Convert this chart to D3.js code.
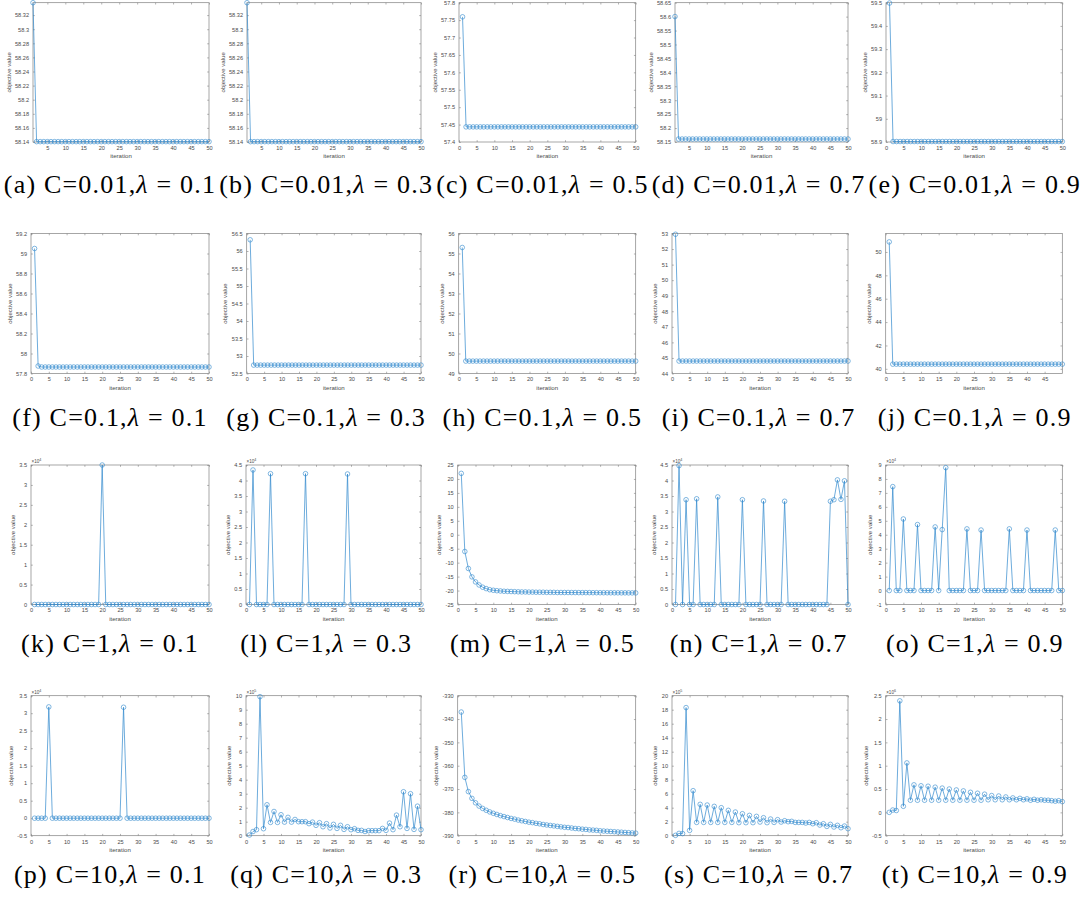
<!DOCTYPE html>
<html>
<head>
<meta charset="utf-8">
<script src="https://cdn.jsdelivr.net/npm/d3@7"></script>
<style>
  body { margin: 0; background: #fff; }
  svg { display: block; }
</style>
</head>
<body>
<svg id="fig" width="1085" height="905"></svg>
<script>
// ---------- parameters of each run ----------
const cValues = ["0.01", "0.1", "1", "10"];
const lambdaValues = ["0.1", "0.3", "0.5", "0.7", "0.9"];
const panelLetters = ["a","b","c","d","e","f","g","h","i","j","k","l","m","n","o","p","q","r","s","t"];

// ---------- objective value at iterations 1..50 ----------
const objA = [58.3376,
  58.1405,58.1405,58.1405,58.1405,58.1405,58.1405,58.1405,58.1405,58.1405,58.1405,
  58.1405,58.1405,58.1405,58.1405,58.1405,58.1405,58.1405,58.1405,58.1405,58.1405,
  58.1405,58.1405,58.1405,58.1405,58.1405,58.1405,58.1405,58.1405,58.1405,58.1405,
  58.1405,58.1405,58.1405,58.1405,58.1405,58.1405,58.1405,58.1405,58.1405,58.1405,
  58.1405,58.1405,58.1405,58.1405,58.1405,58.1405,58.1405,58.1405,58.1405];
const objB = [58.3376,
  58.1405,58.1405,58.1405,58.1405,58.1405,58.1405,58.1405,58.1405,58.1405,58.1405,
  58.1405,58.1405,58.1405,58.1405,58.1405,58.1405,58.1405,58.1405,58.1405,58.1405,
  58.1405,58.1405,58.1405,58.1405,58.1405,58.1405,58.1405,58.1405,58.1405,58.1405,
  58.1405,58.1405,58.1405,58.1405,58.1405,58.1405,58.1405,58.1405,58.1405,58.1405,
  58.1405,58.1405,58.1405,58.1405,58.1405,58.1405,58.1405,58.1405,58.1405];
const objC = [57.7594,
  57.4434,57.4434,57.4434,57.4434,57.4434,57.4434,57.4434,57.4434,57.4434,57.4434,
  57.4434,57.4434,57.4434,57.4434,57.4434,57.4434,57.4434,57.4434,57.4434,57.4434,
  57.4434,57.4434,57.4434,57.4434,57.4434,57.4434,57.4434,57.4434,57.4434,57.4434,
  57.4434,57.4434,57.4434,57.4434,57.4434,57.4434,57.4434,57.4434,57.4434,57.4434,
  57.4434,57.4434,57.4434,57.4434,57.4434,57.4434,57.4434,57.4434,57.4434];
const objD = [58.6003,
  58.1607,58.1607,58.1607,58.1607,58.1607,58.1607,58.1607,58.1607,58.1607,58.1607,
  58.1607,58.1607,58.1607,58.1607,58.1607,58.1607,58.1607,58.1607,58.1607,58.1607,
  58.1607,58.1607,58.1607,58.1607,58.1607,58.1607,58.1607,58.1607,58.1607,58.1607,
  58.1607,58.1607,58.1607,58.1607,58.1607,58.1607,58.1607,58.1607,58.1607,58.1607,
  58.1607,58.1607,58.1607,58.1607,58.1607,58.1607,58.1607,58.1607,58.1607];
const objE = [59.4985,
  58.9020,58.9020,58.9020,58.9020,58.9020,58.9020,58.9020,58.9020,58.9020,58.9020,
  58.9020,58.9020,58.9020,58.9020,58.9020,58.9020,58.9020,58.9020,58.9020,58.9020,
  58.9020,58.9020,58.9020,58.9020,58.9020,58.9020,58.9020,58.9020,58.9020,58.9020,
  58.9020,58.9020,58.9020,58.9020,58.9020,58.9020,58.9020,58.9020,58.9020,58.9020,
  58.9020,58.9020,58.9020,58.9020,58.9020,58.9020,58.9020,58.9020,58.9020];
const objF = [59.05, 57.875,
  57.865,57.865,57.865,57.865,57.865,57.865,57.865,57.865,57.865,57.865,
  57.865,57.865,57.865,57.865,57.865,57.865,57.865,57.865,57.865,57.865,
  57.865,57.865,57.865,57.865,57.865,57.865,57.865,57.865,57.865,57.865,
  57.865,57.865,57.865,57.865,57.865,57.865,57.865,57.865,57.865,57.865,
  57.865,57.865,57.865,57.865,57.865,57.865,57.865,57.865];
const objG = [56.32,
  52.74,52.74,52.74,52.74,52.74,52.74,52.74,52.74,52.74,52.74,
  52.74,52.74,52.74,52.74,52.74,52.74,52.74,52.74,52.74,52.74,
  52.74,52.74,52.74,52.74,52.74,52.74,52.74,52.74,52.74,52.74,
  52.74,52.74,52.74,52.74,52.74,52.74,52.74,52.74,52.74,52.74,
  52.74,52.74,52.74,52.74,52.74,52.74,52.74,52.74,52.74];
const objH = [55.30,
  49.62,49.62,49.62,49.62,49.62,49.62,49.62,49.62,49.62,49.62,
  49.62,49.62,49.62,49.62,49.62,49.62,49.62,49.62,49.62,49.62,
  49.62,49.62,49.62,49.62,49.62,49.62,49.62,49.62,49.62,49.62,
  49.62,49.62,49.62,49.62,49.62,49.62,49.62,49.62,49.62,49.62,
  49.62,49.62,49.62,49.62,49.62,49.62,49.62,49.62,49.62];
const objI = [52.95,
  44.80,44.80,44.80,44.80,44.80,44.80,44.80,44.80,44.80,44.80,
  44.80,44.80,44.80,44.80,44.80,44.80,44.80,44.80,44.80,44.80,
  44.80,44.80,44.80,44.80,44.80,44.80,44.80,44.80,44.80,44.80,
  44.80,44.80,44.80,44.80,44.80,44.80,44.80,44.80,44.80,44.80,
  44.80,44.80,44.80,44.80,44.80,44.80,44.80,44.80,44.80];
const objJ = [50.86,
  40.40,40.40,40.40,40.40,40.40,40.40,40.40,40.40,40.40,40.40,
  40.40,40.40,40.40,40.40,40.40,40.40,40.40,40.40,40.40,40.40,
  40.40,40.40,40.40,40.40,40.40,40.40,40.40,40.40,40.40,40.40,
  40.40,40.40,40.40,40.40,40.40,40.40,40.40,40.40,40.40,40.40,
  40.40,40.40,40.40,40.40,40.40,40.40,40.40,40.40,40.40];
const objK = [
  0,0,0,0,0,0,0,0,0,0,
  0,0,0,0,0,0,0,0,0,3.5e4,
  0,0,0,0,0,0,0,0,0,0,
  0,0,0,0,0,0,0,0,0,0,
  0,0,0,0,0,0,0,0,0,0];
const objL = [
  0,4.34e4,0,0,0,0,4.22e4,0,0,0,
  0,0,0,0,0,0,4.22e4,0,0,0,
  0,0,0,0,0,0,0,0,4.21e4,0,
  0,0,0,0,0,0,0,0,0,0,
  0,0,0,0,0,0,0,0,0,0];
const objM = [
  22.0,-6.0,-12.1,-15.1,-16.9,-18.0,-18.8,-19.3,-19.7,-19.9,
  -20.05,-20.15,-20.25,-20.3,-20.35,-20.4,-20.45,-20.5,-20.5,-20.55,
  -20.55,-20.6,-20.6,-20.6,-20.65,-20.65,-20.65,-20.7,-20.7,-20.7,
  -20.7,-20.72,-20.72,-20.74,-20.74,-20.75,-20.75,-20.76,-20.77,-20.78,
  -20.78,-20.79,-20.8,-20.8,-20.81,-20.82,-20.82,-20.83,-20.84,-20.85];
const objN = [
  0,4.48e4,0,3.38e4,0,0,3.41e4,0,0,0,
  0,0,3.47e4,0,0,0,0,0,0,3.38e4,
  0,0,0,0,0,3.34e4,0,0,0,0,
  0,3.33e4,0,0,0,0,0,0,0,0,
  0,0,0,0,3.33e4,3.38e4,4.02e4,3.39e4,3.99e4,0];
const objO = [
  0,7.45e4,0,0,5.13e4,0,0,0,4.73e4,0,
  0,0,0,4.56e4,0,4.37e4,8.81e4,0,0,0,
  0,0,4.42e4,0,0,0,4.34e4,0,0,0,
  0,0,0,0,4.42e4,0,0,0,0,4.34e4,
  0,0,0,0,0,0,0,4.34e4,0,0];
const objP = [
  0,0,0,0,3.18e4,0,0,0,0,0,
  0,0,0,0,0,0,0,0,0,0,
  0,0,0,0,0,3.17e4,0,0,0,0,
  0,0,0,0,0,0,0,0,0,0,
  0,0,0,0,0,0,0,0,0,0];
const objQ = [
  0.05e5,0.30e5,0.43e5,9.93e5,0.50e5,2.21e5,0.95e5,1.73e5,0.95e5,1.50e5,
  0.97e5,1.31e5,0.97e5,1.16e5,1.00e5,1.00e5,1.00e5,0.86e5,0.97e5,0.74e5,
  0.93e5,0.64e5,0.86e5,0.55e5,0.81e5,0.52e5,0.74e5,0.45e5,0.64e5,0.43e5,
  0.50e5,0.38e5,0.38e5,0.30e5,0.36e5,0.36e5,0.36e5,0.36e5,0.52e5,0.38e5,
  0.90e5,0.43e5,1.47e5,0.64e5,3.14e5,0.52e5,3.00e5,0.45e5,2.11e5,0.43e5];
const objR = [
  -337.0,-365.0,-371.1,-374.0,-375.9,-377.3,-378.3,-379.1,-379.8,-380.4,
  -380.9,-381.4,-381.8,-382.2,-382.6,-382.9,-383.3,-383.6,-383.9,-384.2,
  -384.4,-384.7,-384.9,-385.2,-385.4,-385.6,-385.8,-386.0,-386.2,-386.4,
  -386.5,-386.7,-386.9,-387.0,-387.2,-387.3,-387.5,-387.6,-387.7,-387.9,
  -388.0,-388.1,-388.2,-388.3,-388.4,-388.5,-388.6,-388.7,-388.8,-388.9];
const objS = [
  0.05e5,0.33e5,0.30e5,18.3e5,0.76e5,6.43e5,1.90e5,4.48e5,1.90e5,4.38e5,
  1.90e5,4.19e5,1.90e5,4.00e5,1.90e5,3.62e5,1.90e5,3.38e5,1.86e5,3.14e5,
  1.86e5,2.90e5,1.86e5,2.76e5,1.95e5,2.57e5,1.86e5,2.38e5,1.90e5,2.29e5,
  1.95e5,2.14e5,2.00e5,2.05e5,1.90e5,1.90e5,1.90e5,1.81e5,1.90e5,1.71e5,
  1.86e5,1.52e5,1.71e5,1.33e5,1.62e5,1.24e5,1.48e5,1.14e5,1.38e5,1.00e5];
const objT = [
  0.00e6,0.05e6,0.04e6,2.39e6,0.13e6,1.06e6,0.26e6,0.59e6,0.26e6,0.57e6,
  0.26e6,0.56e6,0.26e6,0.54e6,0.26e6,0.52e6,0.26e6,0.50e6,0.26e6,0.48e6,
  0.26e6,0.46e6,0.26e6,0.43e6,0.26e6,0.41e6,0.26e6,0.39e6,0.27e6,0.36e6,
  0.27e6,0.35e6,0.27e6,0.33e6,0.27e6,0.31e6,0.27e6,0.30e6,0.27e6,0.29e6,
  0.26e6,0.28e6,0.26e6,0.27e6,0.26e6,0.26e6,0.25e6,0.24e6,0.25e6,0.23e6];

// ---------- axis limits and tick labels ----------
const xLimFrom1 = [1, 50];
const xLimFrom0 = [0, 50];
const xTicksFrom5 = [5, 10, 15, 20, 25, 30, 35, 40, 45, 50];
const xTicksFrom0 = [0, 5, 10, 15, 20, 25, 30, 35, 40, 45, 50];
const xTicksTo45 = [0, 5, 10, 15, 20, 25, 30, 35, 40, 45];

const yTicksA = [58.14, 58.16, 58.18, 58.2, 58.22, 58.24, 58.26, 58.28, 58.3, 58.32];
const yTicksC = [57.4, 57.45, 57.5, 57.55, 57.6, 57.65, 57.7, 57.75, 57.8];
const yTicksD = [58.15, 58.2, 58.25, 58.3, 58.35, 58.4, 58.45, 58.5, 58.55, 58.6, 58.65];
const yTicksE = [58.9, 59, 59.1, 59.2, 59.3, 59.4, 59.5];
const yTicksF = [57.8, 58, 58.2, 58.4, 58.6, 58.8, 59, 59.2];
const yTicksG = [52.5, 53, 53.5, 54, 54.5, 55, 55.5, 56, 56.5];
const yTicksH = [49, 50, 51, 52, 53, 54, 55, 56];
const yTicksI = [44, 45, 46, 47, 48, 49, 50, 51, 52, 53];
const yTicksJ = [40, 42, 44, 46, 48, 50];
const yTicksK = [0, 0.5, 1, 1.5, 2, 2.5, 3, 3.5];
const yTicksL = [0, 0.5, 1, 1.5, 2, 2.5, 3, 3.5, 4, 4.5];
const yTicksM = [-25, -20, -15, -10, -5, 0, 5, 10, 15, 20, 25];
const yTicksO = [-1, 0, 1, 2, 3, 4, 5, 6, 7, 8, 9];
const yTicksP = [-0.5, 0, 0.5, 1, 1.5, 2, 2.5, 3, 3.5];
const yTicksQ = [0, 1, 2, 3, 4, 5, 6, 7, 8, 9, 10];
const yTicksR = [-390, -380, -370, -360, -350, -340, -330];
const yTicksS = [0, 2, 4, 6, 8, 10, 12, 14, 16, 18, 20];
const yTicksT = [-0.5, 0, 0.5, 1, 1.5, 2, 2.5];

// panel specs: series, x limits, x ticks, y limits (tick units), y ticks, power of ten
const panels = [
  { data: objA, xLim: xLimFrom1, xTicks: xTicksFrom5, yLim: [58.14, 58.3376], yTicks: yTicksA, exp: 0 },
  { data: objB, xLim: xLimFrom1, xTicks: xTicksFrom5, yLim: [58.14, 58.3376], yTicks: yTicksA, exp: 0 },
  { data: objC, xLim: xLimFrom0, xTicks: xTicksFrom0, yLim: [57.4, 57.8], yTicks: yTicksC, exp: 0 },
  { data: objD, xLim: xLimFrom1, xTicks: xTicksFrom5, yLim: [58.15, 58.65], yTicks: yTicksD, exp: 0 },
  { data: objE, xLim: xLimFrom0, xTicks: xTicksFrom0, yLim: [58.9, 59.5], yTicks: yTicksE, exp: 0 },
  { data: objF, xLim: xLimFrom0, xTicks: xTicksFrom0, yLim: [57.8, 59.2], yTicks: yTicksF, exp: 0 },
  { data: objG, xLim: xLimFrom0, xTicks: xTicksFrom0, yLim: [52.5, 56.5], yTicks: yTicksG, exp: 0 },
  { data: objH, xLim: xLimFrom0, xTicks: xTicksFrom0, yLim: [49, 56], yTicks: yTicksH, exp: 0 },
  { data: objI, xLim: xLimFrom0, xTicks: xTicksFrom0, yLim: [44, 53], yTicks: yTicksI, exp: 0 },
  { data: objJ, xLim: xLimFrom0, xTicks: xTicksTo45, yLim: [39.6, 51.58], yTicks: yTicksJ, exp: 0 },
  { data: objK, xLim: xLimFrom0, xTicks: xTicksFrom0, yLim: [0, 3.5], yTicks: yTicksK, exp: 4 },
  { data: objL, xLim: xLimFrom0, xTicks: xTicksFrom0, yLim: [0, 4.5], yTicks: yTicksL, exp: 4 },
  { data: objM, xLim: xLimFrom0, xTicks: xTicksFrom0, yLim: [-25, 25], yTicks: yTicksM, exp: 0 },
  { data: objN, xLim: xLimFrom0, xTicks: xTicksFrom0, yLim: [0, 4.5], yTicks: yTicksL, exp: 4 },
  { data: objO, xLim: xLimFrom0, xTicks: xTicksFrom0, yLim: [-1, 9], yTicks: yTicksO, exp: 4 },
  { data: objP, xLim: xLimFrom0, xTicks: xTicksFrom0, yLim: [-0.5, 3.5], yTicks: yTicksP, exp: 4 },
  { data: objQ, xLim: xLimFrom0, xTicks: xTicksFrom0, yLim: [0, 10], yTicks: yTicksQ, exp: 5 },
  { data: objR, xLim: xLimFrom0, xTicks: xTicksFrom0, yLim: [-390, -330], yTicks: yTicksR, exp: 0 },
  { data: objS, xLim: xLimFrom0, xTicks: xTicksFrom0, yLim: [0, 20], yTicks: yTicksS, exp: 5 },
  { data: objT, xLim: xLimFrom0, xTicks: xTicksFrom0, yLim: [-0.5, 2.5], yTicks: yTicksT, exp: 6 }
];

// ---------- page layout (pixels) ----------
const rowBoxes = [[2.7, 142], [233.5, 373.5], [465, 604.5], [695.7, 835.7]];
const colRights = [209, 421, 635.7, 848, 1062.3];
const boxLefts = [
  [33, 247, 459, 675, 886],
  [31, 246.7, 458.7, 672, 885.7],
  [31, 246, 457.7, 672, 885.7],
  [31, 246, 457.7, 672, 885.7]
];
const captionBaselines = [193, 426, 652, 883];
const captionCenter = col => 110 + col * 216.2;

const lineColor = "#2f88cd";
const axisColor = "#808080";
const textColor = "#4a4a4a";
const tickFont = 5.6;
const labelFont = 6.1;
const tickLen = 1.8;

const svg = d3.select("#fig");
svg.append("rect").attr("width", 1085).attr("height", 905).attr("fill", "#fff");

const fmtTick = v => String(+v.toFixed(6));

panels.forEach((p, idx) => {
  const row = Math.floor(idx / 5), col = idx % 5;
  const left = boxLefts[row][col], right = colRights[col];
  const [top, bottom] = rowBoxes[row];
  const scale = Math.pow(10, p.exp);

  const x = d3.scaleLinear().domain(p.xLim).range([left, right]);
  const y = d3.scaleLinear().domain(p.yLim).range([bottom, top]);
  const g = svg.append("g").attr("class", "panel");

  const styleAxis = (sel, showLabels) => {
    sel.select(".domain").remove();
    sel.selectAll(".tick line").attr("stroke", axisColor).attr("stroke-width", 0.6);
    sel.selectAll(".tick text")
      .attr("fill", textColor)
      .attr("font-family", "Liberation Sans, Arial, sans-serif")
      .attr("font-size", tickFont);
    if (!showLabels) sel.selectAll(".tick text").remove();
  };

  // inward ticks on all four sides
  g.append("g").attr("transform", `translate(0,${bottom})`)
    .call(d3.axisBottom(x).tickValues(p.xTicks).tickSize(-tickLen).tickPadding(4).tickFormat(fmtTick))
    .call(s => styleAxis(s, true));
  g.append("g").attr("transform", `translate(0,${top})`)
    .call(d3.axisTop(x).tickValues(p.xTicks).tickSize(-tickLen))
    .call(s => styleAxis(s, false));
  const yAxisG = g.append("g").attr("transform", `translate(${left},0)`)
    .call(d3.axisLeft(y).tickValues(p.yTicks).tickSize(-tickLen).tickPadding(4).tickFormat(fmtTick))
    .call(s => styleAxis(s, true));
  g.append("g").attr("transform", `translate(${right},0)`)
    .call(d3.axisRight(y).tickValues(p.yTicks).tickSize(-tickLen))
    .call(s => styleAxis(s, false));

  // box
  g.append("rect")
    .attr("x", left).attr("y", top)
    .attr("width", right - left).attr("height", bottom - top)
    .attr("fill", "none").attr("stroke", axisColor).attr("stroke-width", 0.7);

  // series
  const pts = p.data.map((v, i) => [i + 1, v / scale]);
  const clipId = `clip-${idx}`;
  g.append("clipPath").attr("id", clipId)
    .append("rect").attr("x", left - 4).attr("y", top - 4)
    .attr("width", right - left + 8).attr("height", bottom - top + 8);
  const plot = g.append("g").attr("clip-path", `url(#${clipId})`);
  plot.append("path")
    .datum(pts)
    .attr("d", d3.line().x(d => x(d[0])).y(d => y(d[1])))
    .attr("fill", "none").attr("stroke", lineColor).attr("stroke-width", 0.7);
  plot.selectAll("circle")
    .data(pts)
    .join("circle")
    .attr("cx", d => x(d[0])).attr("cy", d => y(d[1]))
    .attr("r", 2.3)
    .attr("fill", "none").attr("stroke", lineColor).attr("stroke-width", 0.6);

  // axis titles
  let tickW = 0;
  yAxisG.selectAll(".tick text").each(function () { tickW = Math.max(tickW, this.getComputedTextLength()); });
  g.append("text")
    .attr("transform", `translate(${left - 4 - tickW - 4.5},${(top + bottom) / 2}) rotate(-90)`)
    .attr("text-anchor", "middle")
    .attr("font-family", "Liberation Sans, Arial, sans-serif")
    .attr("font-size", labelFont).attr("fill", textColor)
    .text("objective value");
  g.append("text")
    .attr("x", (left + right) / 2).attr("y", bottom + 16)
    .attr("text-anchor", "middle")
    .attr("font-family", "Liberation Sans, Arial, sans-serif")
    .attr("font-size", labelFont).attr("fill", textColor)
    .text("iteration");

  // power-of-ten multiplier
  if (p.exp) {
    const m = g.append("text")
      .attr("x", left + 0.5).attr("y", top - 2)
      .attr("font-family", "Liberation Sans, Arial, sans-serif")
      .attr("font-size", 4.6).attr("fill", textColor);
    m.append("tspan").text("\u00d710");
    m.append("tspan").attr("dy", -2).attr("font-size", 3.6).text(p.exp);
  }

  // caption
  const cap = svg.append("text")
    .attr("x", captionCenter(col)).attr("y", captionBaselines[row])
    .attr("text-anchor", "middle")
    .attr("font-family", "Liberation Serif, Times New Roman, serif")
    .attr("font-size", 26).attr("fill", "#000")
    .attr("letter-spacing", 1.2);
  cap.append("tspan").text(`(${panelLetters[idx]}) C=${cValues[row]},`);
  cap.append("tspan").attr("font-style", "italic").text("\u03bb");
  cap.append("tspan").text(` = ${lambdaValues[col]}`);
});
</script>
</body>
</html>
